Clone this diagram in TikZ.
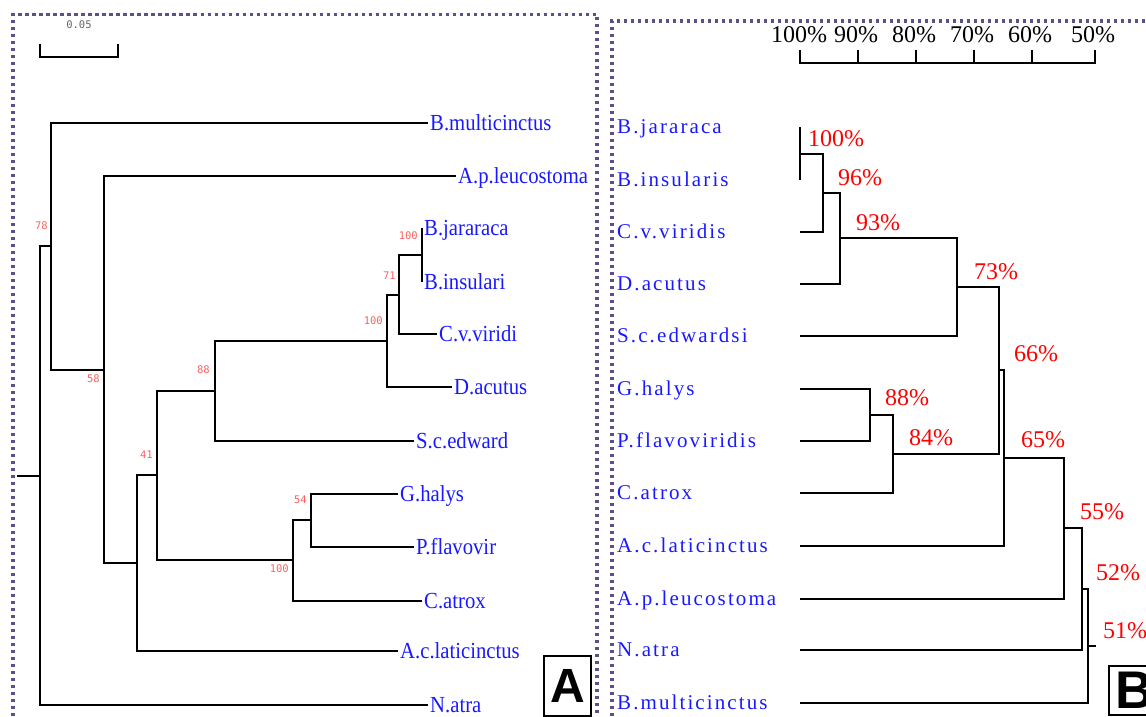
\documentclass[tikz,border=0pt]{standalone}
\usepackage{fontspec}
\setmainfont{Liberation Serif}
\newfontfamily\leafAfont[FakeStretch=0.9]{Liberation Serif}
\newfontfamily\leafBfont[LetterSpace=10]{Liberation Serif}
\newfontfamily\bootfont{DejaVu Sans Mono}
\newfontfamily\panelfont{Liberation Sans}
\definecolor{framecol}{RGB}{95,78,140}
\definecolor{bootcol}{RGB}{255,95,95}
\definecolor{leafcol}{RGB}{25,25,255}

\begin{document}
\begin{tikzpicture}[
  x=1pt, y=-1pt,
  br/.style = {line width=2.6pt},
  dotframe/.style = {framecol, line width=3.3pt, dash pattern=on 3.3pt off 3.7pt},
  leafA/.style = {anchor=west, inner xsep=2pt, inner ysep=0pt, text height=15.2pt,
                  text depth=0pt, text=leafcol, font=\leafAfont\fontsize{23}{26}\selectfont},
  leafB/.style = {anchor=west, inner xsep=2pt, inner ysep=0pt, text height=13.9pt,
                  text depth=0pt, text=leafcol, font=\leafBfont\fontsize{21}{24}\selectfont},
  boot/.style = {anchor=east, inner sep=0pt, text height=7.6pt, text depth=0pt,
                 text=bootcol, font=\bootfont\fontsize{10.5}{12}\selectfont},
  scl/.style = {inner sep=0pt, text height=7.6pt, text depth=0pt,
                text=black!60, font=\bootfont\fontsize{10.5}{12}\selectfont},
  pct/.style = {anchor=west, inner sep=0pt, text height=16.2pt, text depth=0pt,
                text=red, font=\fontsize{24}{28}\selectfont},
  axlab/.style = {anchor=south, inner sep=0pt, text height=16.2pt, text depth=0pt,
                  font=\fontsize{24}{28}\selectfont},
  panel/.style = {draw, line width=2pt, inner sep=0pt, font=\panelfont\bfseries},
]
  \useasboundingbox (0,0) rectangle (1146,717);
  \clip (0,0) rectangle (1146,717);

  \draw[dotframe] (13,730) |- (597,14.5) -- (597,730);
  \draw[dotframe] (612,730) |- (1160,21);

  % left: neighbour joining tree
  \coordinate (sbl) at (40,44);
  \coordinate (sbr) at (118,44);
  \draw[br] (sbl) -- ++(0,13) -| (sbr);
  \node[scl] (sbt) at (79,24.5) {0.05};

  \node[leafA] (bmul) at (428,123) {B.multicinctus};
  \node[leafA] (aleu) at (456,176) {A.p.leucostoma};
  \node[leafA] (bjar) at (422,228) {B.jararaca};
  \node[leafA] (bins) at (422,282) {B.insulari};
  \node[leafA] (cvir) at (437,334) {C.v.viridi};
  \node[leafA] (dacu) at (452,387) {D.acutus};
  \node[leafA] (sced) at (414,441) {S.c.edward};
  \node[leafA] (ghal) at (398,494) {G.halys};
  \node[leafA] (pfla) at (414,547) {P.flavovir};
  \node[leafA] (catr) at (422,601) {C.atrox};
  \node[leafA] (acla) at (398,651) {A.c.laticinctus};
  \node[leafA] (natr) at (428,705) {N.atra};

  \coordinate (stub)  at (17,476);
  \coordinate (root)  at (40,476);
  \coordinate (n78)   at (51,246);
  \coordinate (n58)   at (104,370);
  \coordinate (n0)    at (137,563);
  \coordinate (n41)   at (157,475);
  \coordinate (n88)   at (215,391);
  \coordinate (n100b) at (387,341);
  \coordinate (n71)   at (399,295);
  \coordinate (n100a) at (422,255);
  \coordinate (n100c) at (293,560);
  \coordinate (n54)   at (311,520);

  \draw[br] (stub) -- (root);
  \draw[br] (root) |- (n78);
  \draw[br] (root) |- (natr.west);
  \draw[br] (n78) |- (bmul.west);
  \draw[br] (n78) |- (n58);
  \draw[br] (n58) |- (aleu.west);
  \draw[br] (n58) |- (n0);
  \draw[br] (n0) |- (n41);
  \draw[br] (n0) |- (acla.west);
  \draw[br] (n41) |- (n88);
  \draw[br] (n41) |- (n100c);
  \draw[br] (n88) |- (n100b);
  \draw[br] (n88) |- (sced.west);
  \draw[br] (n100b) |- (n71);
  \draw[br] (n100b) |- (dacu.west);
  \draw[br] (n71) |- (n100a);
  \draw[br] (n71) |- (cvir.west);
  \draw[br] (n100a) |- (bjar.west);
  \draw[br] (n100a) |- (bins.west);
  \draw[br] (n100c) |- (n54);
  \draw[br] (n100c) |- (catr.west);
  \draw[br] (n54) |- (ghal.west);
  \draw[br] (n54) |- (pfla.west);

  \node[boot] (b78)   at ([shift={(-3,-20)}]n78) {78};
  \node[boot] (b58)   at ([shift={(-4,9)}]n58) {58};
  \node[boot] (b88)   at ([shift={(-5,-21)}]n88) {88};
  \node[boot] (b41)   at ([shift={(-4,-20)}]n41) {41};
  \node[boot] (b100a) at ([shift={(-4,-19)}]n100a) {100};
  \node[boot] (b71)   at ([shift={(-3,-19)}]n71) {71};
  \node[boot] (b100b) at ([shift={(-4,-20)}]n100b) {100};
  \node[boot] (b54)   at ([shift={(-4,-20)}]n54) {54};
  \node[boot] (b100c) at ([shift={(-4,9)}]n100c) {100};

  \node[panel, minimum width=47pt, minimum height=60pt,
        font=\panelfont\bfseries\fontsize{48}{48}\selectfont] (pa) at (567.5,686) {A};

  % right: similarity dendrogram
  \coordinate (ax100) at (800,50);
  \coordinate (ax90)  at (858,50);
  \coordinate (ax80)  at (916,50);
  \coordinate (ax70)  at (974,50);
  \coordinate (ax60)  at (1032,50);
  \coordinate (ax50)  at (1095,50);
  \draw[br] (ax100) -- ++(0,13) -| (ax50);
  \draw[br] (ax90) -- ++(0,13);
  \draw[br] (ax80) -- ++(0,13);
  \draw[br] (ax70) -- ++(0,13);
  \draw[br] (ax60) -- ++(0,13);
  \node[axlab] (a100) at ([shift={(-1,-7)}]ax100) {100\%};
  \node[axlab] (a90)  at ([shift={(-2,-7)}]ax90) {90\%};
  \node[axlab] (a80)  at ([shift={(-2,-7)}]ax80) {80\%};
  \node[axlab] (a70)  at ([shift={(-2,-7)}]ax70) {70\%};
  \node[axlab] (a60)  at ([shift={(-2,-7)}]ax60) {60\%};
  \node[axlab] (a50)  at ([shift={(-2,-7)}]ax50) {50\%};

  \node[leafB] (rjar)  at (615,127) {B.jararaca};
  \node[leafB] (rins)  at (615,180) {B.insularis};
  \node[leafB] (rvir)  at (615,232) {C.v.viridis};
  \node[leafB] (racu)  at (615,284) {D.acutus};
  \node[leafB] (rsce)  at (615,336) {S.c.edwardsi};
  \node[leafB] (rhal)  at (615,389) {G.halys};
  \node[leafB] (rfla)  at (615,441) {P.flavoviridis};
  \node[leafB] (ratr)  at (615,493) {C.atrox};
  \node[leafB] (rlat)  at (615,546) {A.c.laticinctus};
  \node[leafB] (rleu)  at (615,599) {A.p.leucostoma};
  \node[leafB] (ratra) at (615,650) {N.atra};
  \node[leafB] (rmul)  at (615,703) {B.multicinctus};

  \coordinate (tjar)  at (rjar.west -| ax100);
  \coordinate (tins)  at (rins.west -| ax100);
  \coordinate (tvir)  at (rvir.west -| ax100);
  \coordinate (tacu)  at (racu.west -| ax100);
  \coordinate (tsce)  at (rsce.west -| ax100);
  \coordinate (thal)  at (rhal.west -| ax100);
  \coordinate (tfla)  at (rfla.west -| ax100);
  \coordinate (tatr)  at (ratr.west -| ax100);
  \coordinate (tlat)  at (rlat.west -| ax100);
  \coordinate (tleu)  at (rleu.west -| ax100);
  \coordinate (tatra) at (ratra.west -| ax100);
  \coordinate (tmul)  at (rmul.west -| ax100);

  \coordinate (r100)  at (800,154);
  \coordinate (r96)   at (823,193);
  \coordinate (r93)   at (840,238);
  \coordinate (r73)   at (957,287);
  \coordinate (r88)   at (870,415);
  \coordinate (r84)   at (893,454);
  \coordinate (r66)   at (999,370);
  \coordinate (r65)   at (1004,458);
  \coordinate (r55)   at (1064,528);
  \coordinate (r52)   at (1082,589);
  \coordinate (r51)   at (1088,646);
  \coordinate (rroot) at (1096,646);

  \draw[br] (r100) |- (tjar);
  \draw[br] (r100) |- (tins);
  \draw[br] (r96) |- (r100);
  \draw[br] (r96) |- (tvir);
  \draw[br] (r93) |- (r96);
  \draw[br] (r93) |- (tacu);
  \draw[br] (r73) |- (r93);
  \draw[br] (r73) |- (tsce);
  \draw[br] (r88) |- (thal);
  \draw[br] (r88) |- (tfla);
  \draw[br] (r84) |- (r88);
  \draw[br] (r84) |- (tatr);
  \draw[br] (r66) |- (r73);
  \draw[br] (r66) |- (r84);
  \draw[br] (r65) |- (r66);
  \draw[br] (r65) |- (tlat);
  \draw[br] (r55) |- (r65);
  \draw[br] (r55) |- (tleu);
  \draw[br] (r52) |- (r55);
  \draw[br] (r52) |- (tatra);
  \draw[br] (r51) |- (r52);
  \draw[br] (r51) |- (tmul);
  \draw[br] (rroot) -- (r51);

  \node[pct] (p100) at ([shift={(8,-16)}]r100) {100\%};
  \node[pct] (p96)  at ([shift={(15,-16)}]r96) {96\%};
  \node[pct] (p93)  at ([shift={(16,-16)}]r93) {93\%};
  \node[pct] (p73)  at ([shift={(17,-16)}]r73) {73\%};
  \node[pct] (p66)  at ([shift={(15,-17)}]r66) {66\%};
  \node[pct] (p88)  at ([shift={(15,-18)}]r88) {88\%};
  \node[pct] (p84)  at ([shift={(16,-17)}]r84) {84\%};
  \node[pct] (p65)  at ([shift={(17,-19)}]r65) {65\%};
  \node[pct] (p55)  at ([shift={(16,-17)}]r55) {55\%};
  \node[pct] (p52)  at ([shift={(14,-17)}]r52) {52\%};
  \node[pct] (p51)  at ([shift={(15,-16)}]r51) {51\%};

  \node[panel, minimum width=52pt, minimum height=49pt,
        font=\panelfont\bfseries\fontsize{53}{53}\selectfont] (pb) at (1135,690.5) {B};
\end{tikzpicture}
\end{document}
